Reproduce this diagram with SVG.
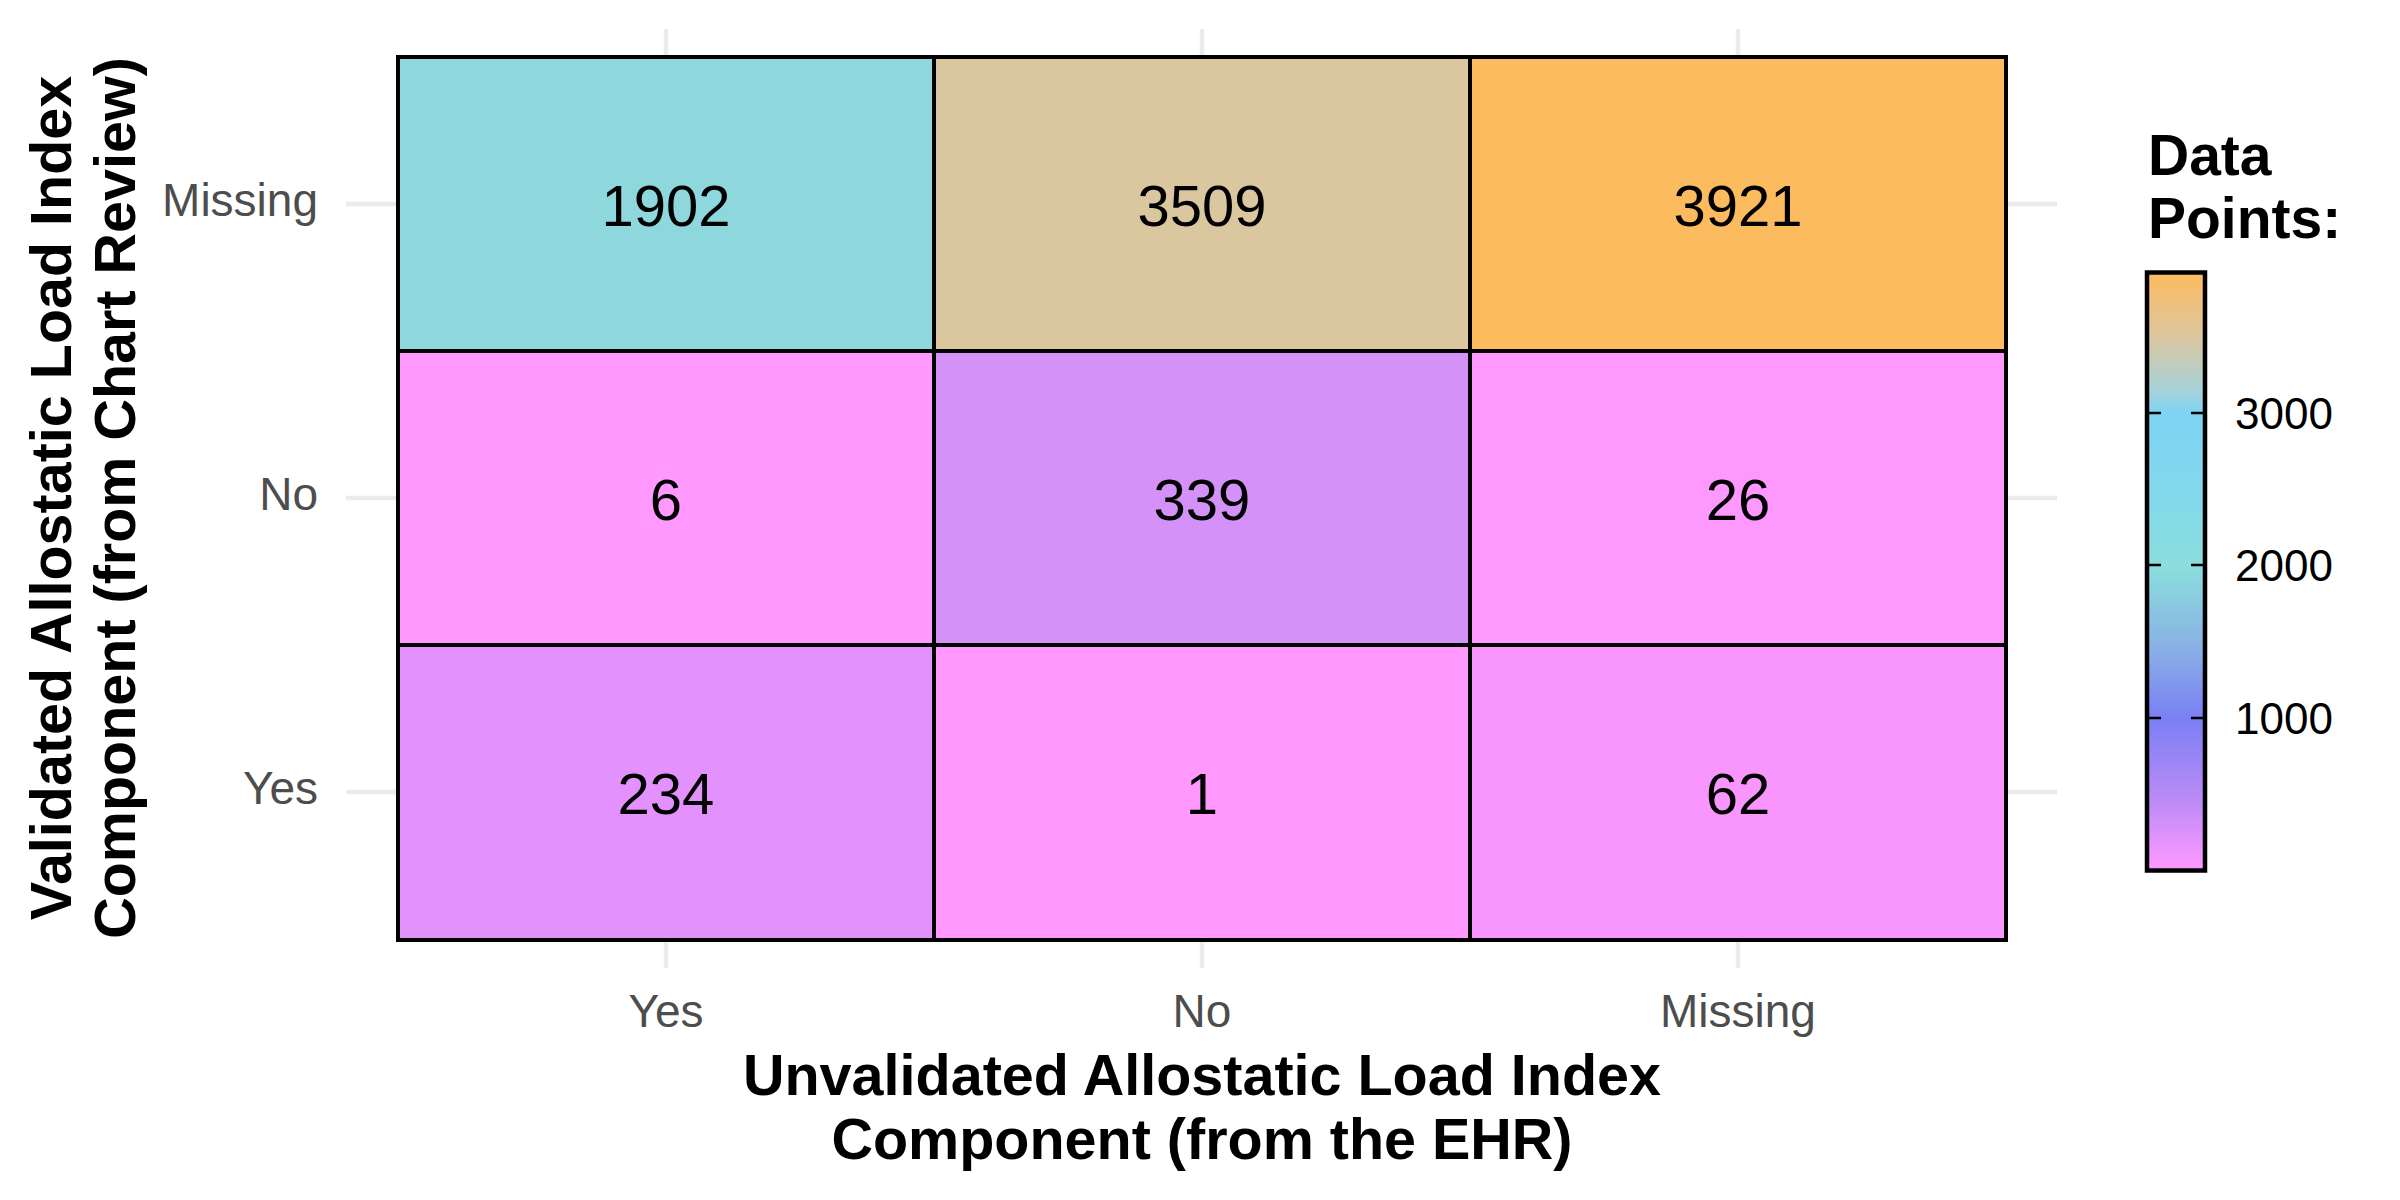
<svg xmlns="http://www.w3.org/2000/svg" width="2400" height="1200" viewBox="0 0 2400 1200">
<defs>
<linearGradient id="cbar" x1="0" y1="1" x2="0" y2="0">
<stop offset="0" stop-color="#ff99ff"/>
<stop offset="0.13" stop-color="#b58af5"/>
<stop offset="0.255" stop-color="#7a80f4"/>
<stop offset="0.38" stop-color="#8ab4e4"/>
<stop offset="0.51" stop-color="#8adedc"/>
<stop offset="0.64" stop-color="#82d8ec"/>
<stop offset="0.765" stop-color="#7dd4f4"/>
<stop offset="0.8" stop-color="#a6d2dc"/>
<stop offset="0.895" stop-color="#dcc69e"/>
<stop offset="1" stop-color="#fdbb5e"/>
</linearGradient>
</defs>
<style>
.grid{stroke:#ebebeb;stroke-width:4.5;fill:none}
.tile{stroke:#000;stroke-width:4}
.val{font-family:"Liberation Sans",Arial,sans-serif;font-size:58px;fill:#000;text-anchor:middle}
.tick{font-family:"Liberation Sans",Arial,sans-serif;font-size:46px;fill:#4d4d4d}
.title{font-family:"Liberation Sans",Arial,sans-serif;font-size:57.5px;font-weight:bold;fill:#000;text-anchor:middle}
.leg{font-family:"Liberation Sans",Arial,sans-serif;font-size:44px;fill:#000}
.legt{font-family:"Liberation Sans",Arial,sans-serif;font-size:57px;font-weight:bold;fill:#000}
</style>
<rect width="2400" height="1200" fill="#fff"/>
<g id="gridlines">
<line class="grid" x1="666" y1="29" x2="666" y2="968"/>
<line class="grid" x1="1202" y1="29" x2="1202" y2="968"/>
<line class="grid" x1="1738" y1="29" x2="1738" y2="968"/>
<line class="grid" x1="346" y1="204" x2="2057" y2="204"/>
<line class="grid" x1="346" y1="498" x2="2057" y2="498"/>
<line class="grid" x1="346" y1="792" x2="2057" y2="792"/>
</g>
<g id="tiles">
<g id="cell-missing-yes"><rect class="tile" x="398" y="57" width="536" height="294" fill="#8ed7dd"/><text class="val" x="666" y="226">1902</text></g>
<g id="cell-missing-no"><rect class="tile" x="934" y="57" width="536" height="294" fill="#dbc79f"/><text class="val" x="1202" y="226">3509</text></g>
<g id="cell-missing-missing"><rect class="tile" x="1470" y="57" width="536" height="294" fill="#fdbb5f"/><text class="val" x="1738" y="226">3921</text></g>
<g id="cell-no-yes"><rect class="tile" x="398" y="351" width="536" height="294" fill="#ff99ff"/><text class="val" x="666" y="520">6</text></g>
<g id="cell-no-no"><rect class="tile" x="934" y="351" width="536" height="294" fill="#d492f9"/><text class="val" x="1202" y="520">339</text></g>
<g id="cell-no-missing"><rect class="tile" x="1470" y="351" width="536" height="294" fill="#fd98fe"/><text class="val" x="1738" y="520">26</text></g>
<g id="cell-yes-yes"><rect class="tile" x="398" y="645" width="536" height="295" fill="#e291fd"/><text class="val" x="666" y="814">234</text></g>
<g id="cell-yes-no"><rect class="tile" x="934" y="645" width="536" height="295" fill="#ff99ff"/><text class="val" x="1202" y="814">1</text></g>
<g id="cell-yes-missing"><rect class="tile" x="1470" y="645" width="536" height="295" fill="#f896fd"/><text class="val" x="1738" y="814">62</text></g>
</g>
<g id="y-ticks">
<text class="tick" x="318" y="216" text-anchor="end">Missing</text>
<text class="tick" x="318" y="510" text-anchor="end">No</text>
<text class="tick" x="318" y="804" text-anchor="end">Yes</text>
</g>
<g id="x-ticks">
<text class="tick" x="666" y="1027" text-anchor="middle">Yes</text>
<text class="tick" x="1202" y="1027" text-anchor="middle">No</text>
<text class="tick" x="1738" y="1027" text-anchor="middle">Missing</text>
</g>
<g id="x-title">
<text class="title" x="1202" y="1095">Unvalidated Allostatic Load Index</text>
<text class="title" x="1202" y="1159">Component (from the EHR)</text>
</g>
<g id="y-title">
<text class="title" transform="translate(71,498) rotate(-90)">Validated Allostatic Load Index</text>
<text class="title" transform="translate(135,498) rotate(-90)">Component (from Chart Review)</text>
</g>
<g id="legend">
<text class="legt" x="2148" y="175">Data</text>
<text class="legt" x="2148" y="238">Points:</text>
<rect x="2147" y="272.5" width="58" height="598" fill="url(#cbar)" stroke="#000" stroke-width="4.5"/>
<g stroke="#000" stroke-width="2.5">
<line x1="2149" y1="413" x2="2161" y2="413"/><line x1="2191" y1="413" x2="2203" y2="413"/>
<line x1="2149" y1="565" x2="2161" y2="565"/><line x1="2191" y1="565" x2="2203" y2="565"/>
<line x1="2149" y1="718" x2="2161" y2="718"/><line x1="2191" y1="718" x2="2203" y2="718"/>
</g>
<text class="leg" x="2235" y="429">3000</text>
<text class="leg" x="2235" y="581">2000</text>
<text class="leg" x="2235" y="734">1000</text>
</g>
</svg>
